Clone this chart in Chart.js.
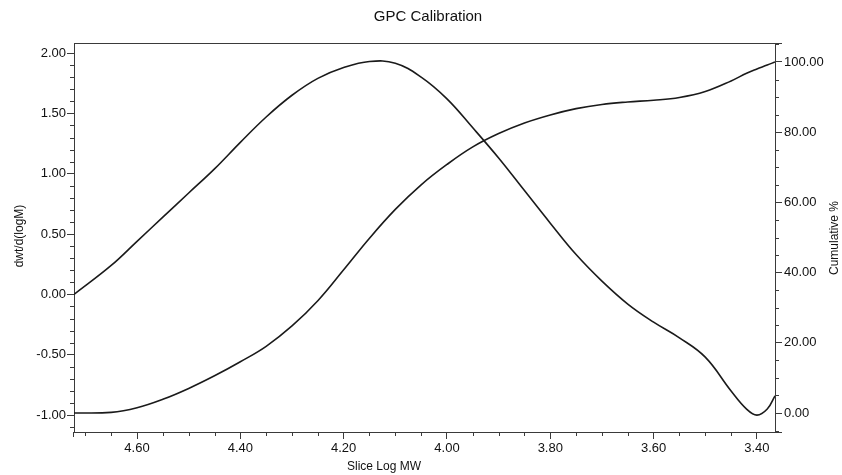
<!DOCTYPE html>
<html>
<head>
<meta charset="utf-8">
<title>GPC Calibration</title>
<script src="https://cdn.jsdelivr.net/npm/chart.js@4.4.1/dist/chart.umd.min.js"></script>
<style>
  html, body { margin: 0; padding: 0; background: #fff; }
  #wrap { width: 842px; height: 475px; position: relative; }
</style>
</head>
<body>
<div id="wrap"><canvas id="gpcChart"></canvas></div>
<script>
// slice log MW (x, reversed axis)
const logMW = [4.722, 4.65, 4.60, 4.55, 4.50, 4.45, 4.40, 4.35, 4.30, 4.25, 4.20, 4.15, 4.10, 4.05, 4.00,
  3.95, 3.90, 3.85, 3.80, 3.75, 3.70, 3.65, 3.60, 3.55, 3.50, 3.45, 3.42, 3.40, 3.38, 3.365];
// dwt/d(logM) - left axis
const dwt = [0.00, 0.24, 0.44, 0.64, 0.84, 1.04, 1.26, 1.47, 1.65, 1.79, 1.88, 1.93, 1.915, 1.80, 1.62,
  1.38, 1.13, 0.86, 0.59, 0.33, 0.11, -0.08, -0.23, -0.36, -0.52, -0.80, -0.95, -1.00, -0.95, -0.84];
// cumulative % - right axis
const cumulative = [0.0, 0.2, 1.5, 3.9, 7.0, 10.6, 14.6, 19.0, 24.8, 32.0, 40.8, 49.8, 58.0, 65.0, 70.8,
  75.8, 79.6, 82.6, 84.9, 86.7, 87.9, 88.6, 89.1, 89.9, 91.6, 94.6, 96.8, 98.0, 99.1, 100.0];

const xTicks = [4.60, 4.40, 4.20, 4.00, 3.80, 3.60, 3.40];
const leftTicks = [-1.00, -0.50, 0.00, 0.50, 1.00, 1.50, 2.00];
const rightTicks = [0, 20, 40, 60, 80, 100];

const FONT = '"Liberation Sans", Arial, sans-serif';
const AXIS = '#3a3a3a';

// frame, minor ticks and the titles
const decor = {
  id: 'decor',
  afterDraw(chart) {
    const ctx = chart.ctx;
    const a = chart.chartArea;
    const sx = chart.scales.x, sl = chart.scales.y, sr = chart.scales.y1;
    ctx.save();
    ctx.strokeStyle = AXIS;
    ctx.lineWidth = 1;
    ctx.beginPath();
    ctx.moveTo(a.left, a.top + 0.5);
    ctx.lineTo(a.right + 7, a.top + 0.5);
    ctx.moveTo(a.right, a.bottom + 0.5);
    ctx.lineTo(a.right + 7, a.bottom + 0.5);
    ctx.moveTo(a.left - 0.5, a.bottom);
    ctx.lineTo(a.left - 0.5, a.bottom + 5);
    ctx.stroke();

    ctx.beginPath();
    for (let v = 3.35; v <= 4.75; v += 0.05) {
      const r = Math.round(v * 100) / 100;
      if (r < sx.min || r > sx.max) continue;
      if (Math.round(r * 100) % 20 === 0) continue;
      const p = Math.round(sx.getPixelForValue(r)) + 0.5;
      ctx.moveTo(p, a.bottom);
      ctx.lineTo(p, a.bottom + 4);
    }
    for (let v = -1.1; v <= 2.1; v += 0.1) {
      const r = Math.round(v * 10) / 10;
      if (r < sl.min || r > sl.max) continue;
      if (Math.round(r * 10) % 5 === 0) continue;
      const p = Math.round(sl.getPixelForValue(r)) + 0.5;
      ctx.moveTo(a.left, p);
      ctx.lineTo(a.left - 4, p);
    }
    for (let v = -5; v <= 105; v += 5) {
      if (v < sr.min || v > sr.max || v % 20 === 0) continue;
      const p = Math.round(sr.getPixelForValue(v)) + 0.5;
      ctx.moveTo(a.right, p);
      ctx.lineTo(a.right + 4, p);
    }
    ctx.stroke();

    ctx.fillStyle = '#111';
    ctx.textAlign = 'center';
    ctx.textBaseline = 'middle';
    ctx.font = '15px ' + FONT;
    ctx.fillText('GPC Calibration', 428, 17);
    ctx.font = '12px ' + FONT;
    ctx.fillText('Slice Log MW', 384, 467);

    ctx.save();
    ctx.translate(20, 236);
    ctx.rotate(-Math.PI / 2);
    ctx.fillText('dwt/d(logM)', 0, 0);
    ctx.restore();

    ctx.save();
    ctx.translate(835, 238);
    ctx.rotate(-Math.PI / 2);
    ctx.fillText('Cumulative %', 0, 0);
    ctx.restore();
    ctx.restore();
  }
};

const ctx = document.getElementById('gpcChart');

new Chart(ctx, {
  type: 'line',
  data: {
    datasets: [{
      label: 'dwt/d(logM)',
      data: logMW.map((x, i) => ({x: x, y: dwt[i]})),
      yAxisID: 'y',
      borderColor: '#1a1a1a',
      borderWidth: 1.6,
      pointRadius: 0,
      tension: 0.4,
      fill: false
    }, {
      label: 'Cumulative %',
      data: logMW.map((x, i) => ({x: x, y: cumulative[i]})),
      yAxisID: 'y1',
      borderColor: '#1a1a1a',
      borderWidth: 1.6,
      pointRadius: 0,
      tension: 0.4,
      fill: false
    }]
  },
  options: {
    responsive: true,
    maintainAspectRatio: false,
    animation: false,
    layout: {padding: {top: 43, left: 0, right: 0, bottom: 0}},
    plugins: {
      legend: {display: false},
      title: {display: false},
      tooltip: {enabled: false}
    },
    scales: {
      x: {
        type: 'linear',
        reverse: true,
        min: 3.365,
        max: 4.722,
        afterBuildTicks: (s) => { s.ticks = xTicks.map(v => ({value: v})); },
        afterFit: (s) => { s.height = 43; },
        border: {display: true, color: AXIS},
        grid: {drawOnChartArea: false, drawTicks: true, tickLength: 7, tickColor: AXIS},
        ticks: {
          autoSkip: false, maxRotation: 0, padding: 2, color: '#111',
          font: {family: FONT, size: 13},
          callback: (v) => Number(v).toFixed(2)
        }
      },
      y: {
        type: 'linear',
        position: 'left',
        min: -1.14,
        max: 2.083,
        afterBuildTicks: (s) => { s.ticks = leftTicks.map(v => ({value: v})); },
        afterFit: (s) => { s.width = 74; },
        border: {display: true, color: AXIS},
        grid: {drawOnChartArea: false, drawTicks: true, tickLength: 7, tickColor: AXIS},
        ticks: {
          autoSkip: false, padding: 1, color: '#111',
          font: {family: FONT, size: 13},
          callback: (v) => Number(v).toFixed(2)
        }
      },
      y1: {
        type: 'linear',
        position: 'right',
        min: -5.4,
        max: 105.4,
        afterBuildTicks: (s) => { s.ticks = rightTicks.map(v => ({value: v})); },
        afterFit: (s) => { s.width = 67; },
        border: {display: true, color: AXIS},
        grid: {drawOnChartArea: false, drawTicks: true, tickLength: 7, tickColor: AXIS},
        ticks: {
          autoSkip: false, padding: 2, color: '#111',
          font: {family: FONT, size: 13},
          callback: (v) => Number(v).toFixed(2)
        }
      }
    }
  },
  plugins: [decor]
});
</script>
</body>
</html>
